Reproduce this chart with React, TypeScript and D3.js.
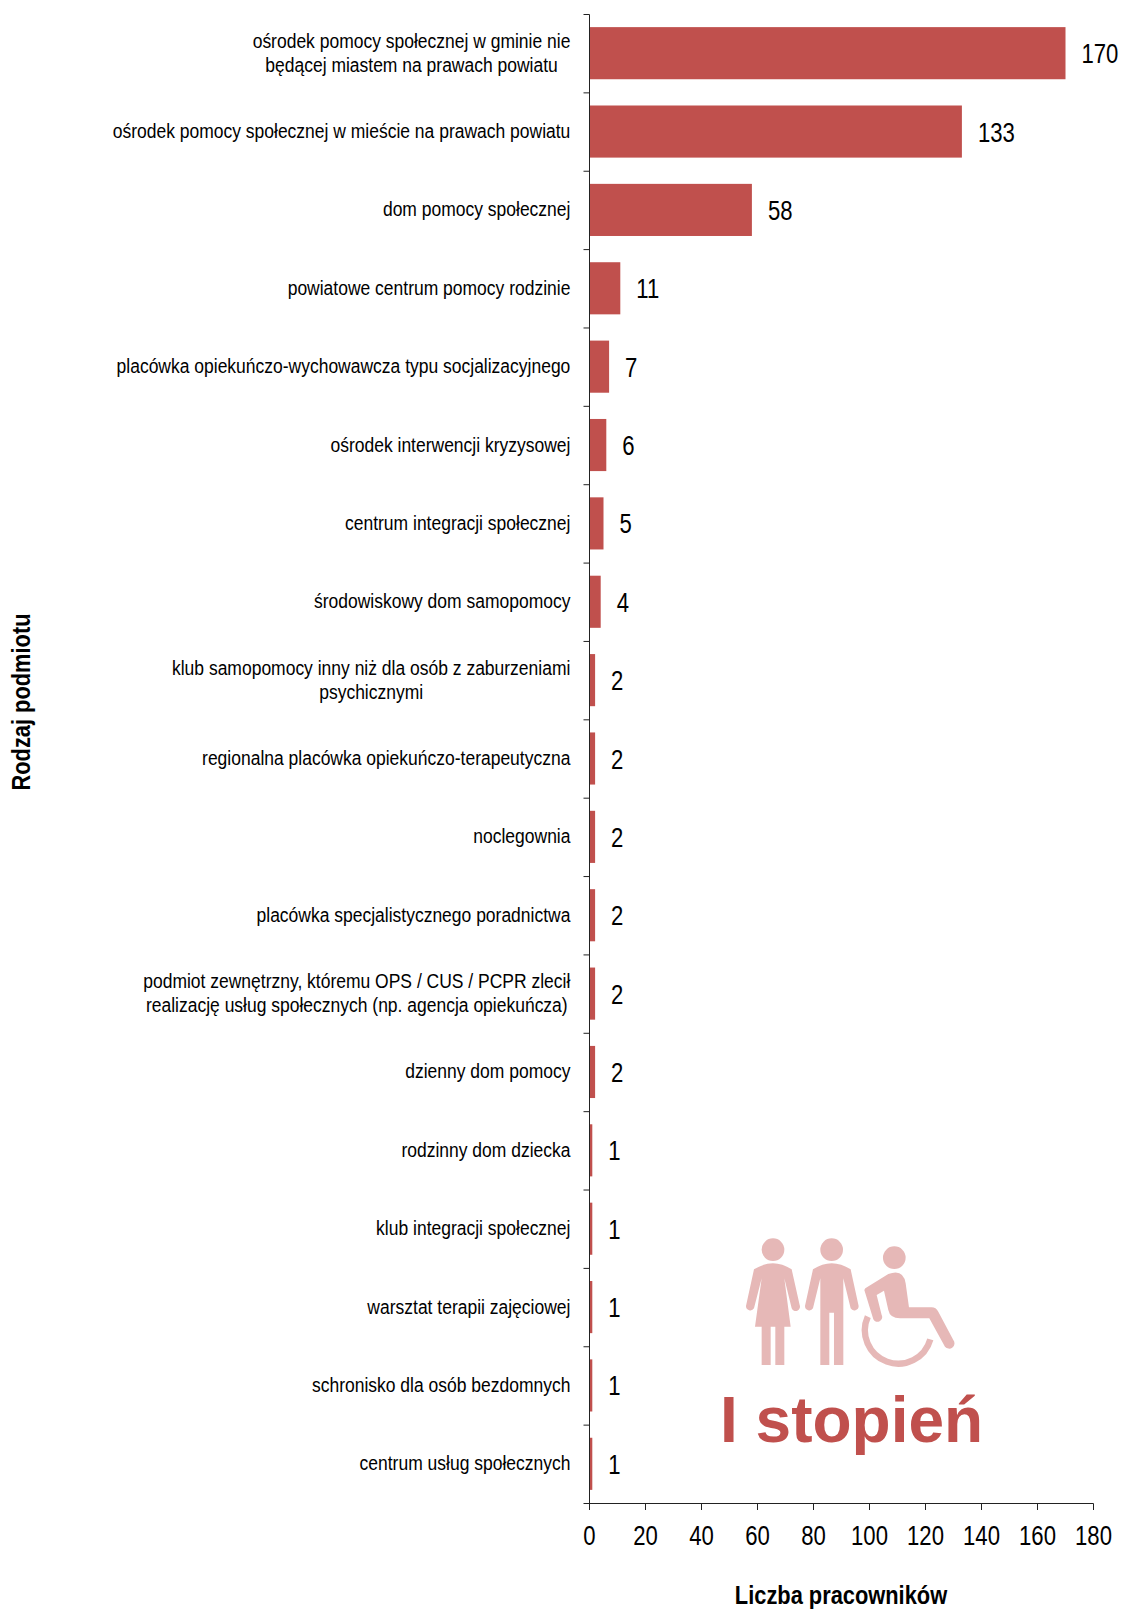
import React from "react";
import * as d3 from "d3";

const categories: string[][] = [
  ["ośrodek pomocy społecznej w gminie nie", "będącej miastem na prawach powiatu"],
  ["ośrodek pomocy społecznej w mieście na prawach powiatu"],
  ["dom pomocy społecznej"],
  ["powiatowe centrum pomocy rodzinie"],
  ["placówka opiekuńczo-wychowawcza typu socjalizacyjnego"],
  ["ośrodek interwencji kryzysowej"],
  ["centrum integracji społecznej"],
  ["środowiskowy dom samopomocy"],
  ["klub samopomocy inny niż dla osób z zaburzeniami", "psychicznymi"],
  ["regionalna placówka opiekuńczo-terapeutyczna"],
  ["noclegownia"],
  ["placówka specjalistycznego poradnictwa"],
  ["podmiot zewnętrzny, któremu OPS / CUS / PCPR zlecił", "realizację usług społecznych (np. agencja opiekuńcza)"],
  ["dzienny dom pomocy"],
  ["rodzinny dom dziecka"],
  ["klub integracji społecznej"],
  ["warsztat terapii zajęciowej"],
  ["schronisko dla osób bezdomnych"],
  ["centrum usług społecznych"],
];
const values = [170, 133, 58, 11, 7, 6, 5, 4, 2, 2, 2, 2, 2, 2, 1, 1, 1, 1, 1];
const xTicks = [0, 20, 40, 60, 80, 100, 120, 140, 160, 180];

const SANS = "'Liberation Sans', Arial, sans-serif";
const RED = "#C0504D";
const PINK = "#E6B8B7";
const AXIS = "#222";
const LABEL_SIZE = 21;
const LABEL_K = 0.833;
const NUM_K = 0.82;
const LABEL_RIGHT = 570.5;

const x = d3.scaleLinear().domain([0, 180]).range([589.5, 1093.5]);
const y = d3.scaleBand<number>().domain(d3.range(categories.length)).range([14, 1503]).paddingInner(0.335).paddingOuter(0.1675);
const step = y.step();

function measure(s: string): number {
  const ctx = document.createElement("canvas").getContext("2d")!;
  ctx.font = `${LABEL_SIZE}px 'Liberation Sans'`;
  return ctx.measureText(s).width * LABEL_K;
}

const narrow = (px: number, py: number, k: number) => `translate(${px},${py}) scale(${k},1)`;

export default function App() {
  return (
    <svg width={1121} height={1610} style={{ position: "absolute", left: 0, top: 0, background: "#fff" }}>
      {values.map((v, i) => (
        <rect key={i} x={x(0)} y={y(i)!} width={x(v) - x(0)} height={y.bandwidth()} fill={RED} />
      ))}
      <g stroke={AXIS} strokeWidth={1} fill="none">
        <line x1={x(0)} x2={x(0)} y1={14.5} y2={1503.5} />
        <line x1={x(0) - 6} x2={x(180)} y1={1503.5} y2={1503.5} />
        {d3.range(categories.length).map((i) => (
          <line key={i} x1={x(0) - 6} x2={x(0)} y1={14.5 + i * step} y2={14.5 + i * step} />
        ))}
        {xTicks.map((t) => (
          <line key={t} x1={x(t)} x2={x(t)} y1={1503.5} y2={1510} />
        ))}
      </g>
      <g fontFamily={SANS} fontSize={LABEL_SIZE} fill="#000">
        {categories.map((lines, i) => {
          const cy = y(i)! + y.bandwidth() / 2;
          const widest = Math.max(...lines.map(measure));
          const cx = LABEL_RIGHT - widest / 2;
          return lines.map((l, j) => (
            <text key={j} transform={narrow(cx, cy + 6.5 + (j - (lines.length - 1) / 2) * 24, LABEL_K)} textAnchor="middle">{l}</text>
          ));
        })}
      </g>
      <g fontFamily={SANS} fontSize={27} fill="#000">
        {values.map((v, i) => (
          <text key={i} transform={narrow(x(v) + 16, y(i)! + y.bandwidth() / 2 + 10, NUM_K)}>{v}</text>
        ))}
        {xTicks.map((t) => (
          <text key={t} transform={narrow(x(t), 1545, NUM_K)} textAnchor="middle">{t}</text>
        ))}
      </g>
      <text transform={narrow(841, 1604, 0.84)} textAnchor="middle" fontFamily={SANS} fontWeight="bold" fontSize={26}>Liczba pracowników</text>
      <text transform="translate(30,702) rotate(-90) scale(0.84,1)" textAnchor="middle" fontFamily={SANS} fontWeight="bold" fontSize={26}>Rodzaj podmiotu</text>
      <g transform="translate(680,1200) scale(0.3333)">
        <g fill={PINK}>
          <circle cx={279} cy={149} r={34} />
          <path d="M222,208 Q279,172 335,208 L359,315 A13,13 0 0 1 335,325 L313,235 L332,380 L313,380 L313,495 L286,495 L286,380 L272,380 L272,495 L245,495 L245,380 L225,380 L245,235 L222,325 A13,13 0 0 1 198,318 Z" />
          <circle cx={455} cy={149} r={34} />
          <path d="M399,208 Q455,172 512,208 L536,318 A13,13 0 0 1 512,325 L490,235 L490,495 L462,495 L462,338 L448,338 L448,495 L421,495 L421,235 L399,325 A13,13 0 0 1 375,318 Z" />
          <circle cx={643} cy={173} r={34} />
          <path d="M556,265 L625,222 Q670,205 677,250 L687,322 L755,322 Q768,322 775,335 L820,420 A14,14 0 0 1 795,440 L748,355 L660,355 Q630,355 625,330 L612,272 L590,285 L605,345 A14,14 0 0 1 580,358 L553,270 Z" />
        </g>
        <path d="M563.5,350 A100,100 0 1 0 751,418" fill="none" stroke={PINK} strokeWidth={19} />
      </g>
      <text x={720} y={1442} fontFamily={SANS} fontWeight="bold" fontSize={64} fill={RED}>I stopień</text>
    </svg>
  );
}
